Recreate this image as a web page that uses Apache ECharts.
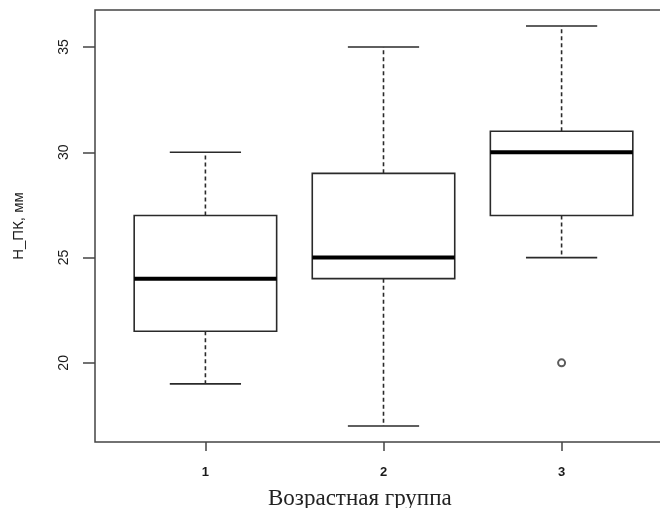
<!DOCTYPE html>
<html>
<head>
<meta charset="utf-8">
<script src="https://cdn.jsdelivr.net/npm/echarts@6/dist/echarts.min.js"></script>
<style>
html,body{margin:0;padding:0;background:#fff;}
#chart{width:660px;height:508px;}
</style>
</head>
<body>
<div id="chart"></div>
<script>
// ---- data ----
var groups = [1, 2, 3];
var groupLabels = ['1', '2', '3'];
var whiskerLow = [19, 17, 25];
var q1 = [21.5, 24, 27];
var median = [24, 25, 30];
var q3 = [27, 29, 31];
var whiskerHigh = [30, 35, 36];
var outliers = [[3, 20]];
var yTicks = [20, 25, 30, 35];
var yTitle = 'Н_ПК, мм';
var xTitle = 'Возрастная группа';

var boxData = groups.map(function (g, i) {
  return [g, whiskerLow[i], q1[i], median[i], q3[i], whiskerHigh[i]];
});

var chart = echarts.init(document.getElementById('chart'), null, {renderer: 'canvas'});
var lineCol = '#2a2a2a';

function renderBox(params, api) {
  var x = api.value(0);
  var pLow = api.coord([x, api.value(1)]);
  var pQ1 = api.coord([x, api.value(2)]);
  var pMed = api.coord([x, api.value(3)]);
  var pQ3 = api.coord([x, api.value(4)]);
  var pHigh = api.coord([x, api.value(5)]);
  var boxW = api.size([0.8, 0])[0];
  var capW = api.size([0.4, 0])[0];
  var cx = pMed[0];
  var dashStyle = {stroke: lineCol, lineWidth: 1.6, lineDash: [4, 3]};
  var solid = {stroke: lineCol, lineWidth: 1.6};
  return {
    type: 'group',
    children: [
      {type: 'line', shape: {x1: cx, y1: pQ3[1], x2: cx, y2: pHigh[1]}, style: dashStyle},
      {type: 'line', shape: {x1: cx, y1: pQ1[1], x2: cx, y2: pLow[1]}, style: dashStyle},
      {type: 'line', shape: {x1: cx - capW / 2, y1: pHigh[1], x2: cx + capW / 2, y2: pHigh[1]}, style: solid},
      {type: 'line', shape: {x1: cx - capW / 2, y1: pLow[1], x2: cx + capW / 2, y2: pLow[1]}, style: solid},
      {type: 'rect', shape: {x: cx - boxW / 2, y: pQ3[1], width: boxW, height: pQ1[1] - pQ3[1]},
        style: {fill: '#fff', stroke: lineCol, lineWidth: 1.6}},
      {type: 'line', shape: {x1: cx - boxW / 2, y1: pMed[1], x2: cx + boxW / 2, y2: pMed[1]},
        style: {stroke: '#000', lineWidth: 4}}
    ]
  };
}

var labelFont = 'Liberation Sans, Arial, sans-serif';
var option = {
  backgroundColor: '#fff',
  animation: false,
  grid: {
    left: 95, top: 10, width: 577, height: 432,
    outerBoundsMode: 'none', containLabel: false,
    show: true, borderColor: '#444', borderWidth: 1.5, backgroundColor: 'transparent'
  },
  xAxis: {
    type: 'value', min: 0.38, max: 3.62,
    splitLine: {show: false},
    axisLine: {show: false},
    axisTick: {show: true, length: 9, lineStyle: {color: '#444', width: 1.5}, customValues: groups},
    axisLabel: {
      customValues: groups,
      formatter: function (v) { var i = groups.indexOf(v); return i >= 0 ? groupLabels[i] : ''; },
      margin: 24, color: '#1a1a1a', fontSize: 13, fontWeight: 'bold', fontFamily: labelFont
    }
  },
  yAxis: {
    type: 'value', min: 16.24, max: 36.76,
    splitLine: {show: false},
    axisLine: {show: false},
    axisTick: {show: true, length: 12, lineStyle: {color: '#444', width: 1.5}, customValues: yTicks},
    axisLabel: {
      customValues: yTicks, rotate: 90,
      margin: 24, color: '#1a1a1a', fontSize: 14, fontFamily: labelFont
    },
    name: yTitle, nameLocation: 'middle', nameRotate: 90, nameGap: 69,
    nameTextStyle: {color: '#1a1a1a', fontSize: 15, fontFamily: labelFont}
  },
  graphic: [{
    type: 'text', left: 268, top: 487,
    style: {text: xTitle, fill: '#222', font: '23px "Liberation Serif", "Times New Roman", serif'}
  }],
  series: [
    {type: 'custom', renderItem: renderBox, data: boxData, encode: {x: 0, y: [1, 2, 3, 4, 5]}, z: 2},
    {type: 'scatter', data: outliers, symbol: 'emptyCircle', symbolSize: 7,
      itemStyle: {color: '#333', borderColor: '#333', borderWidth: 1.5}, z: 3}
  ]
};
chart.setOption(option);
</script>
</body>
</html>
